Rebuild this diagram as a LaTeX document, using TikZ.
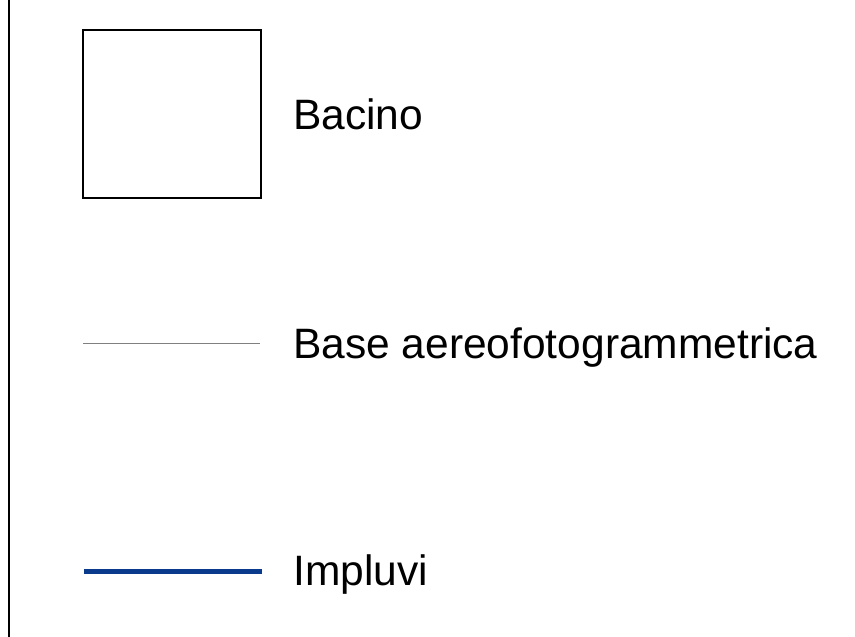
\documentclass[tikz,border=0pt]{standalone}
\usepackage{fontspec}
\setmainfont{Liberation Sans}
\definecolor{impluvio}{RGB}{10,58,140}
\definecolor{basegray}{RGB}{128,128,128}
\tikzset{
  legendtext/.style={anchor=base west, inner sep=0pt, font=\fontsize{42.5}{42.5}\selectfont},
}

\begin{document}
\begin{tikzpicture}[x=1pt,y=-1pt]
% define canvas
\useasboundingbox (0,0) rectangle (855,637);
% left border
\draw[line width=2pt] (8.5,0) -- (8.5,637);

% symbols
\node[draw, line width=2pt, minimum width=178pt, minimum height=168pt, inner sep=0pt] (bacino) at (172,114) {};
\draw[basegray, line width=1pt] (83,343) -- (260,343);
\draw[impluvio, line width=5pt] (84,571) -- (262,571);

% text
\node[legendtext] (lbacino) at (293,129) {Bacino};
\node[legendtext] (lbase) at (293,358) {Base aereofotogrammetrica};
\node[legendtext] (limpluvi) at (293,585) {Impluvi};
\end{tikzpicture}
\end{document}
